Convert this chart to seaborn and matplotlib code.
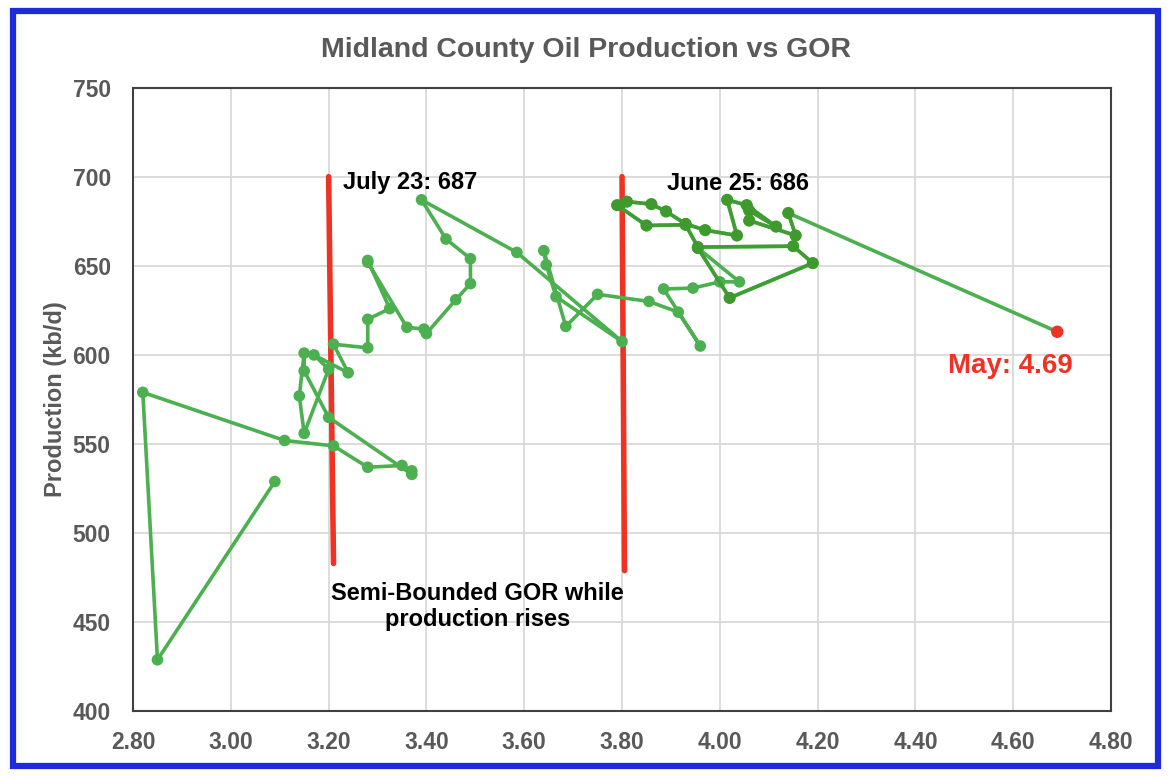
import pandas as pd
import matplotlib
matplotlib.use("Agg")
from matplotlib import pyplot as plt
import seaborn as sns

# GOR (x) and production in kb/d (y), month by month
gor = [3.09, 2.85, 2.82, 3.11, 3.21, 3.28, 3.35, 3.37, 3.37, 3.20,
       3.15, 3.15, 3.14, 3.15, 3.20, 3.17, 3.24, 3.21, 3.28, 3.28,
       3.325, 3.28, 3.28, 3.36, 3.395, 3.40, 3.46, 3.49, 3.49, 3.44,
       3.39, 3.585, 3.80, 3.665, 3.645, 3.64, 3.685, 3.75, 3.855, 3.915,
       3.96, 3.885, 3.945, 4.00, 4.04, 3.955, 4.02, 4.19, 4.15, 3.955,
       3.93, 3.85, 3.79, 3.81, 3.86, 3.89, 3.93, 3.97, 4.035, 4.015,
       4.055, 4.115, 4.06, 4.06, 4.155, 4.14, 4.69]
prod = [529, 429, 579, 552, 549, 537, 538, 535, 533, 565,
        591, 601, 577, 556, 592, 600, 590, 606, 604, 620,
        626, 653, 652, 615.5, 614.5, 612, 631, 640, 654, 665,
        687, 657.5, 607.5, 632.7, 650.5, 658.5, 616, 634, 630, 624,
        605, 637, 637.5, 641, 641, 660, 632, 651.5, 661, 660.5,
        673, 672.6, 684, 686, 684.6, 680.5, 673.5, 670, 667, 687,
        684, 672, 681, 675.4, 667, 679.6, 613]
dark_from = 45  # later months drawn in a darker green

# red guide lines
guide1_x = [3.20, 3.21]
guide1_y = [700, 483]
guide2_x = [3.80, 3.805]
guide2_y = [700, 479]

x_ticks = [2.8 + 0.2 * i for i in range(11)]
y_ticks = list(range(400, 751, 50))

df = pd.DataFrame({"gor": gor, "prod": prod})
light = df.iloc[:len(df) - 1]
dark = df.iloc[dark_from:len(df) - 1]
last = df.iloc[[len(df) - 1]]

sns.set_style("white")
plt.rcParams["font.family"] = ["Liberation Sans", "DejaVu Sans"]

grey = "#595959"
green = "#4CAF50"
dgreen = "#3F9A2E"
red = "#EE3324"

fig = plt.figure(figsize=(11.72, 7.78), dpi=100)
ax = fig.add_axes([0.1135, 0.0855, 0.8345, 0.802])

ax.plot(guide1_x, guide1_y, color=red, lw=4, zorder=2)
ax.plot(guide2_x, guide2_y, color=red, lw=4, zorder=2)

sns.lineplot(data=df, x="gor", y="prod", sort=False, estimator=None, color=green,
             lw=2.6, ax=ax, zorder=3)
sns.scatterplot(data=light, x="gor", y="prod", color=green, s=70,
                edgecolor="none", ax=ax, zorder=4)
sns.lineplot(data=dark, x="gor", y="prod", sort=False, estimator=None, color=dgreen,
             lw=2.6, ax=ax, zorder=5, alpha=0.85)
sns.scatterplot(data=dark, x="gor", y="prod", color=dgreen, s=75,
                edgecolor="none", ax=ax, zorder=6)
sns.scatterplot(data=last, x="gor", y="prod", color=red, s=80,
                edgecolor="none", ax=ax, zorder=7)

ax.set_xlim(2.8, 4.8)
ax.set_ylim(400, 750)
ax.set_xticks(x_ticks)
ax.set_xticklabels([f"{t:.2f}" for t in x_ticks])
ax.set_yticks(y_ticks)
ax.grid(True, color="#d9d9d9", lw=1.3)
ax.set_axisbelow(True)
ax.tick_params(length=0, labelsize=16.5, labelcolor=grey)
ax.tick_params(axis="x", pad=14)
ax.tick_params(axis="y", pad=16)
for lab in ax.get_xticklabels() + ax.get_yticklabels():
    lab.set_fontweight("bold")
for sp in ax.spines.values():
    sp.set_color("#404040")
    sp.set_linewidth(1.5)

ax.set_xlabel("")
ax.set_ylabel("Production (kb/d)", fontsize=17, fontweight="bold", color=grey)
ax.yaxis.set_label_coords(-0.068, 0.5)
fig.text(0.5, 0.936, "Midland County Oil Production vs GOR", ha="center", va="center",
         fontsize=20.5, fontweight="bold", color=grey)

ax.text(3.229, 697, "July 23: 687", fontsize=17, fontweight="bold", color="black",
        ha="left", va="center")
ax.text(3.892, 696, "June 25: 686", fontsize=17, fontweight="bold", color="black",
        ha="left", va="center")
ax.text(3.505, 459, "Semi-Bounded GOR while\nproduction rises", fontsize=17,
        fontweight="bold", color="black", ha="center", va="center", linespacing=1.15)
ax.text(4.595, 594, "May: 4.69", fontsize=20, fontweight="bold", color=red,
        ha="center", va="center")

# blue frame around the chart
fig.patches.append(plt.Rectangle((0.011, 0.0155), 0.977, 0.97, transform=fig.transFigure,
                                 fill=False, edgecolor="#1F2BDB", lw=4.5))

fig.savefig("out.png", dpi=100, facecolor="white")
